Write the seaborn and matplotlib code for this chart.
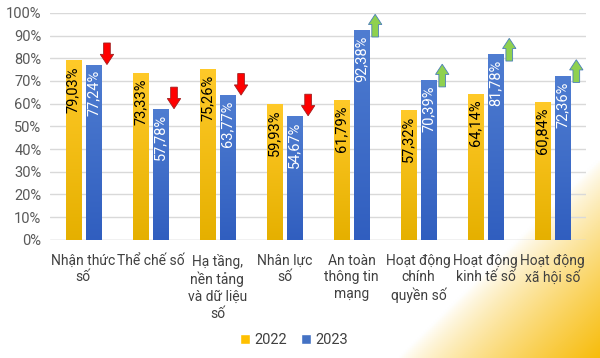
import numpy as np
import pandas as pd
import seaborn as sns
import matplotlib.pyplot as plt
from matplotlib.patches import FancyArrow, Patch
from matplotlib.ticker import PercentFormatter

categories = ["Nhận thức\nsố", "Thể chế số", "Hạ tầng,\nnền tảng\nvà dữ liệu\nsố",
              "Nhân lực\nsố", "An toàn\nthông tin\nmạng", "Hoạt động\nchính\nquyền số",
              "Hoạt động\nkinh tế số", "Hoạt động\nxã hội số"]
years = ["2022", "2023"]
values_2022 = [79.03, 73.33, 75.26, 59.93, 61.79, 57.32, 64.14, 60.84]
values_2023 = [77.24, 57.78, 63.77, 54.67, 92.38, 70.39, 81.78, 72.36]
y_ticks = [0, 10, 20, 30, 40, 50, 60, 70, 80, 90, 100]

df = pd.DataFrame({
    "cat": categories * 2,
    "year": [years[0]] * len(categories) + [years[1]] * len(categories),
    "val": [v / 100 for v in values_2022 + values_2023],
})

sns.set_theme(style="white")
plt.rcParams['font.family'] = ['Roboto', 'DejaVu Sans']

yellow = "#FFC000"
blue = "#4472C4"

fig = plt.figure(figsize=(6, 3.58), dpi=100)

# background glow, bottom right
bg = fig.add_axes([0, 0, 1, 1], zorder=-10)
xx, yy = np.meshgrid(np.linspace(0, 600, 300), np.linspace(0, 358, 180))
s = (xx - 400) / 200 + (yy - 160) / 198 - 1
t = np.clip(s, 0, 1) ** 0.8
c0 = np.array([1, 1, 1])
c1 = np.array([0.97, 0.74, 0.05])
img = c0[None, None, :] * (1 - t[..., None]) + c1[None, None, :] * t[..., None]
bg.imshow(img, extent=[0, 600, 358, 0], aspect='auto')
bg.set_axis_off()

ax = fig.add_axes([0.083, 0.33, 0.894, 0.634])
ax.patch.set_alpha(0)
sns.barplot(data=df, x="cat", y="val", hue="year", palette=[yellow, blue],
            width=0.6, gap=0.25, ax=ax, legend=False, saturation=1)

ax.set_ylim(0, 1)
ax.set_yticks([v / 100 for v in y_ticks])
ax.yaxis.set_major_formatter(PercentFormatter(1, decimals=0))
ax.grid(axis='y', color='#D9D9D9', lw=1)
ax.set_axisbelow(True)
for sp in ax.spines.values():
    sp.set_visible(False)
ax.axhline(0, color='#D9D9D9', lw=1, zorder=0)
ax.set_xlim(-0.5, len(categories) - 0.5)
ax.set_xlabel("")
ax.set_ylabel("")
ax.tick_params(axis='y', labelsize=10.5, colors='#595959', length=0, pad=6)
ax.tick_params(axis='x', labelsize=10, colors='#404040', length=0, pad=10)
for lab in ax.get_xticklabels():
    lab.set_linespacing(1.25)
    lab.set_va('top')

grads = {
    yellow: (np.array([1.0, 0.79, 0.16]), np.array([0.90, 0.69, 0.0])),
    blue: (np.array([0.31, 0.49, 0.82]), np.array([0.19, 0.37, 0.75])),
}
patches = list(ax.patches)
n = len(categories)
for i, p in enumerate(patches):
    col = yellow if i < n else blue
    top_c, bot_c = grads[col]
    g = np.linspace(0, 1, 64)[:, None, None]
    im_arr = top_c * (1 - g) + bot_c * g
    x0, w, h = p.get_x(), p.get_width(), p.get_height()
    im = ax.imshow(im_arr, extent=[x0, x0 + w, 0, h], aspect='auto', zorder=2.1,
                   interpolation='bilinear')
    im.set_clip_path(p)
    p.set_edgecolor('#FFFFFF')
    p.set_linewidth(0.6)
    txt_col = 'black' if i < n else 'white'
    lab = f"{h * 100:.2f}".replace('.', ',') + '%'
    ax.annotate(lab, (x0 + w / 2, h), xytext=(0, -4), textcoords='offset points',
                rotation=90, ha='center', va='top', fontsize=10.5, color=txt_col,
                zorder=3)
ax.set_xlim(-0.5, len(categories) - 0.5)
ax.set_ylim(0, 1)

# trend arrows beside the 2023 bars
for i in range(n):
    p = patches[n + i]
    xc = p.get_x() + p.get_width() + 0.09
    v23 = values_2023[i] / 100
    if values_2023[i] < values_2022[i]:
        ax.add_patch(FancyArrow(xc, v23 + 0.095, 0, -0.095, width=0.1, head_width=0.2,
                                head_length=0.045, length_includes_head=True,
                                facecolor='#FF0000', edgecolor='#A02020', lw=0.6,
                                zorder=4))
    else:
        ax.add_patch(FancyArrow(xc, v23 - 0.03, 0, 0.1, width=0.1, head_width=0.2,
                                head_length=0.045, length_includes_head=True,
                                facecolor='#8FD14F', edgecolor='#4A7EBB', lw=0.6,
                                zorder=4))

handles = [Patch(facecolor=yellow, label=years[0]), Patch(facecolor=blue, label=years[1])]
fig.legend(handles=handles, loc='center', bbox_to_anchor=(0.49, 0.05), ncol=2, frameon=False,
           fontsize=10.5, handlelength=0.7, handleheight=0.7, handletextpad=0.3,
           columnspacing=0.9, labelcolor='#404040')

fig.savefig("out.png", dpi=100)
